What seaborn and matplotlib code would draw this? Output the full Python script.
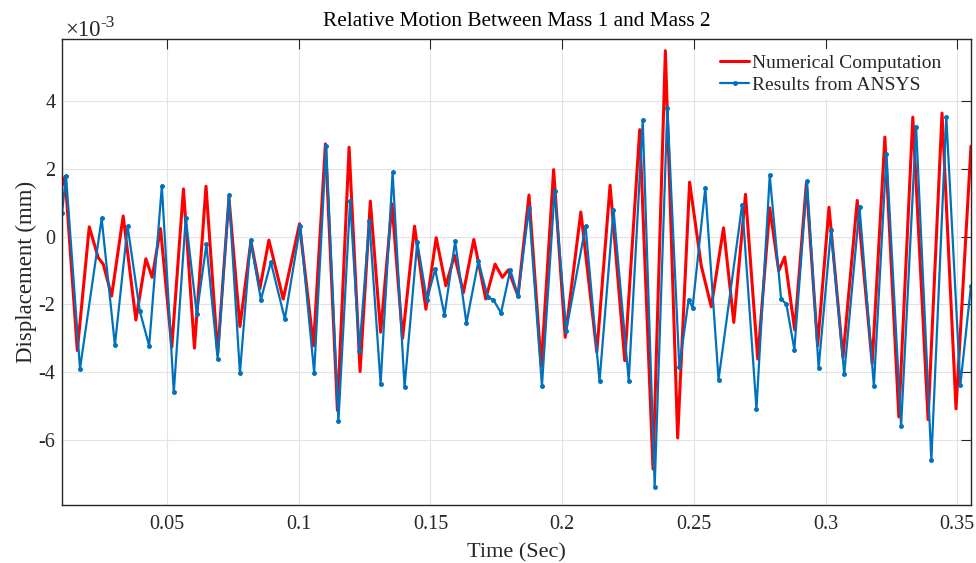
import numpy as np
import pandas as pd
import matplotlib
matplotlib.use("Agg")
import matplotlib.pyplot as plt
import seaborn as sns
from matplotlib.ticker import MultipleLocator, FuncFormatter

# ---------------------------------------------------------
# DATA (displacement in 1e-3 mm)
# ---------------------------------------------------------
t_num = [0.0101, 0.01125, 0.01591, 0.02045, 0.02386, 0.02576, 0.02894, 0.03333,
         0.03814, 0.04193, 0.04432, 0.0475, 0.05178, 0.05621, 0.06038, 0.06477,
         0.0692, 0.07348, 0.07765, 0.08182, 0.08523, 0.08864, 0.09409, 0.10027,
         0.10557, 0.11011, 0.11466, 0.11909, 0.12326, 0.12716, 0.13106, 0.13538,
         0.13939, 0.14394, 0.14826, 0.15216, 0.15583, 0.15909, 0.1625, 0.16644,
         0.17098, 0.17451, 0.17727, 0.17955, 0.18322, 0.18739, 0.19205, 0.19674,
         0.20114, 0.20708, 0.21314, 0.21818, 0.22375, 0.22943, 0.23447, 0.23917,
         0.24383, 0.24837, 0.2528, 0.25659, 0.26125, 0.26515, 0.26958, 0.27424,
         0.27879, 0.2822, 0.28447, 0.28826, 0.29269, 0.29697, 0.30129, 0.30659,
         0.31201, 0.31769, 0.3225, 0.3278, 0.33311, 0.3389, 0.3442, 0.34951, 0.3552]
y_num = [1.5, 1.78, -3.36, 0.29, -0.62, -0.81, -1.75, 0.61,
         -2.46, -0.65, -1.2, 0.24, -3.26, 1.41, -3.29, 1.49,
         -3.46, 1.15, -2.65, -0.13, -1.53, -0.1, -1.84, 0.38,
         -3.22, 2.74, -5.13, 2.64, -3.98, 1.05, -2.82, 0.97,
         -3.0, 0.31, -2.14, -0.03, -1.45, -0.55, -1.65, -0.08,
         -1.84, -0.81, -1.2, -0.98, -1.75, 1.23, -3.82, 1.98,
         -2.97, 0.73, -3.41, 1.52, -3.66, 3.16, -6.86, 5.49,
         -5.94, 1.61, -0.86, -2.07, 0.26, -2.53, 1.25, -3.61,
         0.85, -1.01, -0.6, -2.75, 1.57, -3.22, 0.87, -3.56,
         1.07, -3.75, 2.94, -5.32, 3.53, -5.4, 3.65, -5.08, 2.67]

t_ansys = [0.0101, 0.01163, 0.01693, 0.02515, 0.03019, 0.035, 0.03966, 0.04318,
           0.048, 0.05254, 0.05708, 0.06125, 0.06492, 0.0692, 0.07348, 0.07765,
           0.08171, 0.08561, 0.08939, 0.0947, 0.10053, 0.10583, 0.11038, 0.11504,
           0.11947, 0.12299, 0.12678, 0.13106, 0.13561, 0.14015, 0.14496, 0.14864,
           0.15178, 0.1553, 0.15936, 0.16364, 0.16818, 0.17174, 0.17386, 0.17678,
           0.1803, 0.18322, 0.18739, 0.19231, 0.19712, 0.20152, 0.20886, 0.21417,
           0.21947, 0.22527, 0.23057, 0.23511, 0.23992, 0.24447, 0.24799, 0.2495,
           0.25432, 0.25936, 0.26833, 0.27375, 0.27879, 0.28311, 0.28511, 0.28814,
           0.29295, 0.29735, 0.30205, 0.30708, 0.31288, 0.31833, 0.32311, 0.32867,
           0.33436, 0.34015, 0.34583, 0.35114, 0.3552]
y_ansys = [0.7, 1.8, -3.9, 0.54, -3.2, 0.31, -2.2, -3.22,
           1.49, -4.59, 0.56, -2.28, -0.23, -3.6, 1.22, -4.03,
           -0.1, -1.86, -0.75, -2.43, 0.31, -4.02, 2.69, -5.45,
           1.05, -3.36, 0.46, -4.34, 1.9, -4.44, -0.16, -1.86,
           -0.96, -2.31, -0.14, -2.55, -0.72, -1.79, -1.86, -2.25,
           -0.98, -1.75, 0.85, -4.41, 1.36, -2.77, 0.31, -4.27,
           0.8, -4.25, 3.43, -7.38, 3.81, -3.85, -1.86, -2.09,
           1.44, -4.22, 0.95, -5.08, 1.81, -1.84, -1.99, -3.33,
           1.64, -3.88, 0.19, -4.05, 0.88, -4.41, 2.45, -5.59,
           3.25, -6.6, 3.53, -4.39, -1.45]

num = pd.DataFrame({'t': t_num, 'disp': y_num})
ansys = pd.DataFrame({'t': t_ansys, 'disp': y_ansys})

# ---------------------------------------------------------
# STYLE (MATLAB-like look)
# ---------------------------------------------------------
sns.set_theme(style="whitegrid")
plt.rcParams['font.family'] = ['Liberation Serif', 'DejaVu Serif']
plt.rcParams['axes.unicode_minus'] = False

fig = plt.figure(figsize=(9.76, 5.63), dpi=100)
ax = fig.add_axes([0.0638, 0.103, 0.9308, 0.828])
ax.set_facecolor('white')

sns.lineplot(data=num, x='t', y='disp', color='#FF0000', linewidth=2.2,
             solid_joinstyle='round', label='Numerical Computation', ax=ax)
sns.lineplot(data=ansys, x='t', y='disp', color='#0072BD', linewidth=1.6,
             solid_joinstyle='round', marker='.', markersize=5.5,
             markeredgecolor='#0072BD', label='Results from ANSYS', ax=ax)

ax.set_xlim(0.0102, 0.3551)
ax.set_ylim(-7.92, 5.84)

ax.xaxis.set_major_locator(MultipleLocator(0.05))
ax.xaxis.set_major_formatter(FuncFormatter(lambda v, p: f'{v:g}'))
ax.yaxis.set_major_locator(MultipleLocator(2))
ax.yaxis.set_major_formatter(FuncFormatter(lambda v, p: f'{v:g}'))

# exponent marker above the y axis, MATLAB style
base = ax.text(0.003, 0.995, '\u00d710', transform=ax.transAxes, ha='left', va='bottom',
               fontsize=16.5, color='#262626')
ax.annotate('-3', xy=(1.0, 0.5), xycoords=base, ha='left', va='bottom',
            fontsize=12.5, color='#262626')

ax.grid(True, color='#e3e3e3', linewidth=0.8)
for s in ax.spines.values():
    s.set_color('#262626')
    s.set_linewidth(1.0)
    s.set_visible(True)
ax.tick_params(which='both', direction='in', top=True, right=True,
               length=7, width=0.8, colors='#262626', labelsize=14.5)
ax.tick_params(axis='x', pad=7)
ax.tick_params(axis='y', pad=5)

ax.set_xlabel('Time (Sec)', fontsize=16, color='#262626', labelpad=7)
ax.set_ylabel('Displacement (mm)', fontsize=16.5, color='#262626', labelpad=1)
ax.set_title('Relative Motion Between Mass 1 and Mass 2', fontsize=15.3, color='black', pad=9)

leg = ax.legend(loc='upper right', bbox_to_anchor=(0.985, 1.0), fontsize=14,
                frameon=True, facecolor='white', edgecolor='none', framealpha=1,
                handlelength=1.5, handletextpad=0.15, labelspacing=0.2,
                borderpad=0.3)

fig.savefig('out.png', dpi=100)
